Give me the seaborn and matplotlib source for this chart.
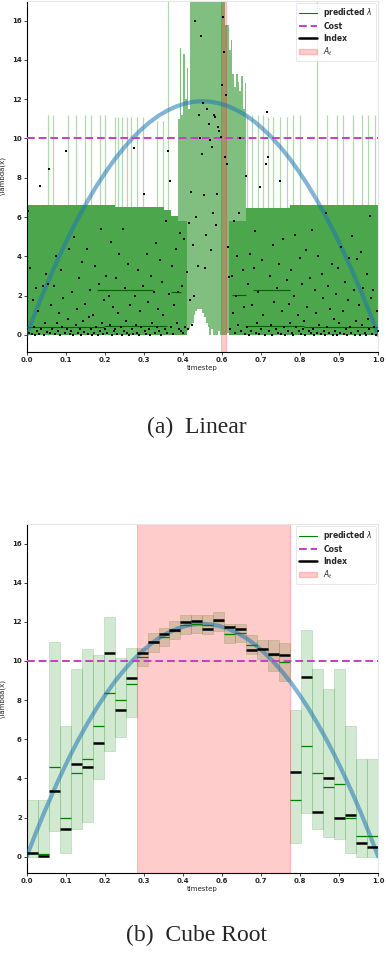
import numpy as np
import matplotlib
matplotlib.use('Agg')
import matplotlib.pyplot as plt
from matplotlib.lines import Line2D
from matplotlib.patches import Patch
import seaborn as sns

# true lambda(x) (blue curve), read every 0.025
curve_x = [0.0, 0.025, 0.05, 0.075, 0.1, 0.125, 0.15, 0.175, 0.2, 0.225, 0.25,
           0.275, 0.3, 0.325, 0.35, 0.375, 0.4, 0.425, 0.45, 0.475, 0.5,
           0.525, 0.55, 0.575, 0.6, 0.625, 0.65, 0.675, 0.7, 0.725, 0.75,
           0.775, 0.8, 0.825, 0.85, 0.875, 0.9, 0.925, 0.95, 0.975, 1.0]
curve_y = [0.0, 1.16, 2.26, 3.30, 4.28, 5.21, 6.07, 6.87, 7.62, 8.30, 8.93,
           9.49, 10.0, 10.44, 10.83, 11.16, 11.42, 11.63, 11.78, 11.87, 11.9,
           11.87, 11.78, 11.63, 11.42, 11.16, 10.83, 10.44, 10.0, 9.49, 8.93,
           8.30, 7.62, 6.87, 6.07, 5.21, 4.28, 3.30, 2.26, 1.16, 0.0]
cost = 10.0
xtick_labels = ['0.0', '0.1', '0.2', '0.3', '0.4', '0.6', '0.7', '0.8', '0.9', '1.0']

# ---- (a) Linear ----
# index value in each of 320 equal bins (20 bins per row)
lin_index = [
    0.3, 6.3, 0.1, 3.4, 0.05, 1.8, 0.4, 0.0, 2.4, 0.2, 1.2, 0.05, 7.56, 0.3, 2.5, 0.0, 0.6, 3.1, 0.15, 2.6,
    8.46, 0.1, 1.5, 0.3, 2.5, 0.05, 4.0, 0.6, 0.2, 1.1, 0.0, 3.3, 0.4, 1.9, 0.1, 9.37, 0.3, 0.8, 4.4, 0.05,
    0.2, 2.2, 0.0, 5.0, 0.5, 1.3, 0.1, 2.9, 0.3, 0.0, 3.7, 0.7, 0.15, 1.6, 4.4, 0.05, 0.9, 2.3, 0.3, 0.0,
    1.0, 0.1, 3.5, 0.4, 0.0, 2.6, 0.2, 5.4, 0.6, 0.05, 1.8, 0.3, 3.0, 0.1, 2.0, 0.5, 4.75, 0.0, 1.4, 0.2,
    0.3, 2.9, 0.05, 1.1, 4.1, 0.4, 0.0, 5.37, 0.2, 2.4, 0.7, 0.1, 3.6, 0.0, 1.5, 0.3, 0.05, 9.53, 2.0, 0.5,
    0.1, 3.3, 0.0, 1.2, 0.4, 2.5, 7.2, 0.2, 0.05, 4.1, 1.7, 0.3, 0.0, 3.0, 0.6, 2.2, 0.1, 4.7, 0.4, 1.3,
    0.2, 3.8, 0.0, 2.7, 1.0, 0.3, 5.8, 0.1, 9.37, 2.1, 7.85, 0.4, 3.5, 0.05, 1.5, 4.4, 0.6, 2.2, 0.3, 5.2,
    0.2, 2.5, 0.1, 4.9, 0.4, 3.2, 0.3, 5.7, 1.8, 7.3, 0.5, 4.6, 2.0, 16.0, 6.0, 3.5, 11.2, 10.0, 15.2, 9.2,
    11.8, 7.1, 3.4, 5.1, 11.5, 10.75, 9.9, 4.3, 9.55, 6.2, 11.2, 11.1, 5.6, 7.2, 10.6, 10.4, 10.1, 12.7, 16.2, 14.4,
    9.05, 12.2, 8.7, 4.5, 2.96, 0.3, 3.0, 1.1, 5.8, 0.1, 2.0, 4.0, 0.5, 6.2, 10.0, 0.2, 3.3, 1.4, 0.05, 8.1,
    0.4, 2.6, 0.0, 4.1, 0.2, 1.5, 3.4, 5.28, 0.1, 0.6, 2.2, 0.05, 7.55, 0.3, 3.8, 1.0, 0.0, 8.7, 11.35, 9.05,
    0.2, 3.0, 0.5, 0.0, 4.6, 1.7, 0.3, 2.4, 0.1, 3.6, 7.85, 0.05, 1.2, 4.9, 0.4, 0.0, 2.8, 0.2, 1.6, 0.6,
    3.3, 0.1, 0.0, 2.0, 5.1, 0.4, 1.0, 0.2, 3.9, 0.05, 2.6, 0.3, 0.7, 0.0, 4.3, 1.4, 0.2, 2.9, 0.1, 5.36,
    0.3, 0.0, 2.3, 1.1, 0.1, 4.0, 0.5, 0.05, 3.1, 1.9, 0.2, 0.0, 6.2, 0.4, 2.5, 0.1, 1.3, 3.6, 0.0, 0.8,
    0.2, 2.1, 0.0, 3.4, 0.6, 0.1, 4.5, 1.2, 0.05, 2.7, 0.3, 0.0, 1.8, 3.9, 0.4, 0.1, 5.04, 2.3, 0.0, 0.7,
    3.86, 0.2, 1.5, 0.0, 4.2, 0.5, 2.4, 0.1, 0.0, 3.1, 0.8, 0.3, 6.04, 1.9, 0.05, 2.3, 0.4, 0.0, 1.2, 0.2,
]
# dense part of the intervals (from 0 up to the band top)
lin_band_x0 = [0.00, 0.25, 0.39, 0.41, 0.43, 0.575, 0.625, 0.75]
lin_band_x1 = [0.25, 0.39, 0.41, 0.43, 0.455, 0.625, 0.75, 1.00]
lin_band_hi = [6.6, 6.5, 6.35, 6.05, 5.8, 5.8, 6.45, 6.6]
# wide intervals around the middle
lin_mid_x = [0.4325, 0.4375, 0.4425, 0.4475, 0.4525, 0.4575, 0.4625, 0.4675, 0.4725, 0.4775,
             0.4825, 0.4875, 0.4925, 0.4975, 0.5025, 0.5075, 0.5125, 0.5175, 0.5225, 0.5275,
             0.5325, 0.5375, 0.5425, 0.5475, 0.5525, 0.5575, 0.5625, 0.5675, 0.5725, 0.5775,
             0.5825, 0.5875, 0.5925, 0.5975, 0.6025, 0.6075, 0.6125, 0.6175, 0.6225]
lin_mid_lo = [0.0, 0.0, 0.0, 0.1, 0.0, 0.2, 0.3, 0.5, 0.6, 1.0,
              1.2, 1.3, 1.3, 1.3, 1.1, 0.9, 0.6, 0.4, 0.0, 0.3,
              0.0, 0.0, 0.0, 0.2, 0.0, 0.0, 0.0, 0.0, 0.1, 0.0,
              0.2, 0.0, 0.0, 0.0, 0.0, 0.0, 0.0, 0.0, 0.0]
lin_mid_hi = [11.0, 14.6, 11.2, 14.3, 12.0, 13.6, 11.5, 17.0, 17.0, 17.0,
              17.0, 17.0, 17.0, 17.0, 17.0, 17.0, 17.0, 17.0, 17.0, 17.0,
              17.0, 17.0, 17.0, 17.0, 17.0, 17.0, 17.0, 15.8, 15.8, 14.5,
              15.0, 13.3, 12.6, 13.3, 12.9, 12.4, 13.2, 11.5, 12.8]
# thin single bins reaching above the band
lin_spike_x = [0.061, 0.076, 0.118, 0.140, 0.166, 0.182, 0.208, 0.223, 0.251, 0.261, 0.270, 0.284,
               0.298, 0.313, 0.332, 0.370, 0.389, 0.403, 0.626, 0.640, 0.659, 0.673, 0.687, 0.701,
               0.720, 0.739, 0.758, 0.777, 0.825, 0.853, 0.882, 0.900, 0.929, 0.953, 0.971, 0.990]
lin_spike_hi = [11.2, 11.2, 11.2, 11.2, 11.2, 11.2, 11.2, 11.2, 11.1, 11.1, 11.1, 11.1,
                11.1, 11.1, 11.1, 10.9, 10.9, 17.0, 11.2, 11.2, 11.2, 11.2, 11.1, 11.1,
                11.1, 11.1, 11.2, 11.2, 17.0, 11.2, 11.2, 11.2, 11.2, 11.2, 11.2, 11.2]
# runs of bins sharing the same predicted lambda
lin_pred_x0 = [0.00, 0.22, 0.20, 0.41, 0.585, 0.62, 0.645, 0.79]
lin_pred_x1 = [0.22, 0.40, 0.36, 0.44, 0.625, 0.79, 0.75, 1.00]
lin_pred_y = [0.4, 0.45, 2.3, 2.2, 2.05, 0.45, 2.3, 0.4]
lin_at = (0.554, 0.566)

# ---- (b) Cube Root, 32 bins ----
cube_lo = [0.0, 0.0, 1.32, 0.2, 1.4, 1.77, 3.97, 5.42, 6.13, 7.15, 9.73, 10.44, 10.75, 11.11, 11.39, 11.42,
           11.4, 11.51, 10.9, 10.95, 10.36, 10.11, 9.5, 8.97, 0.71, 2.21, 1.4, 1.03, 0.9, 0.2, 0.0, 0.0]
cube_hi = [2.92, 2.92, 10.98, 6.69, 9.61, 10.61, 10.31, 12.25, 10.17, 10.68, 10.68, 11.42, 11.68, 12.05, 12.34, 12.36,
           12.36, 12.49, 11.88, 11.88, 11.32, 11.07, 11.07, 10.93, 7.52, 11.59, 9.61, 8.58, 9.61, 6.69, 5.0, 5.0]
cube_pred = [0.2, 0.15, 4.58, 1.96, 4.28, 4.99, 6.68, 8.37, 8.03, 8.84, 10.22, 10.95, 11.22, 11.55, 11.83, 11.9,
             11.85, 12.02, 11.37, 11.42, 10.81, 10.6, 10.3, 9.97, 2.92, 5.65, 4.28, 3.57, 3.72, 1.96, 1.05, 1.05]
cube_index = [0.2, 0.04, 3.35, 1.42, 4.71, 4.6, 5.8, 10.39, 7.49, 9.14, 10.39, 10.97, 11.39, 11.56, 12.0, 12.05,
              11.66, 12.09, 11.74, 11.66, 10.54, 10.59, 10.34, 10.29, 4.31, 9.17, 2.28, 4.04, 1.98, 2.13, 0.71, 0.51]
cube_at = (0.3125, 0.75)

sns.set_theme(style='white')
plt.rcParams['font.family'] = ['DejaVu Sans']

COST_C = '#c83cc8'
CURVE_C = '#1f77b4'
BAND_C = '#4ca64c'
MID_C = '#80bf80'


def finish(ax, at):
    ax.axvspan(at[0], at[1], color='red', alpha=0.2, zorder=2, lw=0.8)
    sns.lineplot(x=curve_x, y=curve_y, ax=ax, color=CURVE_C, alpha=0.55, lw=3, zorder=3)
    ax.axhline(cost, color=COST_C, ls='--', lw=1.4, dashes=(4, 2), zorder=4)
    ax.set_xlim(0, 1)
    ax.set_ylim(-0.85, 17)
    ax.set_xticks(np.linspace(0, 1, len(xtick_labels)))
    ax.set_xticklabels(xtick_labels)
    ax.set_yticks(np.arange(0, 17, 2))
    ax.tick_params(labelsize=5, length=2, width=0.6, pad=1.5, left=True, bottom=True)
    for t in ax.get_xticklabels() + ax.get_yticklabels():
        t.set_fontweight('bold')
    ax.set_xlabel('timestep', fontsize=5, labelpad=1.5)
    ax.set_ylabel('\\lambda(x)', fontsize=5)
    ax.yaxis.set_label_coords(-0.058, 0.5)
    for s in ['left', 'bottom']:
        ax.spines[s].set_color('black')
        ax.spines[s].set_linewidth(0.8)
    for s in ['top', 'right']:
        ax.spines[s].set_color('#e6e6e6')
        ax.spines[s].set_linewidth(0.8)
    handles = [Line2D([], [], color='green', lw=0.8),
               Line2D([], [], color=COST_C, ls='--', lw=1.4, dashes=(4, 2)),
               Line2D([], [], color='black', lw=1.8),
               Patch(facecolor='red', alpha=0.2, edgecolor='red')]
    leg = ax.legend(handles, ['predicted $\\lambda$', 'Cost', 'Index', '$A_t$'],
                    loc='upper right', prop={'size': 5.5, 'weight': 'bold'},
                    borderaxespad=0.3, handlelength=2.4, labelspacing=0.35,
                    frameon=True, fancybox=True, edgecolor='#dddddd')
    leg.get_frame().set_linewidth(0.6)


fig = plt.figure(figsize=(3.86, 9.64), dpi=100)
ax1 = fig.add_axes([0.069, 0.6352, 0.911, 0.3638])
ax2 = fig.add_axes([0.069, 0.0941, 0.911, 0.3623])

# (a) Linear: light wide intervals underneath, dense band on top of them
ax1.bar(lin_mid_x, np.array(lin_mid_hi) - np.array(lin_mid_lo), bottom=lin_mid_lo,
        width=0.005, color=MID_C, lw=0, zorder=1)
ax1.vlines(lin_spike_x, 0, lin_spike_hi, color='green', alpha=0.3, lw=0.9, zorder=1)
bx0 = np.array(lin_band_x0)
ax1.bar(bx0, lin_band_hi, width=np.array(lin_band_x1) - bx0, align='edge',
        color=BAND_C, lw=0, zorder=1.5)
ax1.hlines(lin_pred_y, lin_pred_x0, lin_pred_x1, color='darkgreen', lw=0.8, zorder=3)
n_lin = len(lin_index)
lin_x = (np.arange(n_lin) + 0.5) / n_lin
sns.scatterplot(x=lin_x, y=lin_index, ax=ax1, color='black', marker='s', s=3,
                linewidth=0, zorder=5)
finish(ax1, lin_at)

# (b) Cube Root
n_cube = len(cube_index)
edges = np.arange(n_cube) / n_cube
w = 1.0 / n_cube
ax2.bar(edges, np.array(cube_hi) - np.array(cube_lo), bottom=cube_lo, width=w, align='edge',
        color='green', alpha=0.18, edgecolor='green', lw=0.6, zorder=1)
ax2.hlines(cube_pred, edges, edges + w, color='green', lw=0.9, zorder=4)
ax2.hlines(cube_index, edges, edges + w, color='black', lw=1.8, zorder=5)
finish(ax2, cube_at)

fig.text(0.51, 1 - 427 / 964, '(a)  Linear', ha='center', va='center',
         family='Liberation Serif', fontsize=17)
fig.text(0.51, 1 - 935 / 964, '(b)  Cube Root', ha='center', va='center',
         family='Liberation Serif', fontsize=17)

fig.savefig('out.png', dpi=100)
